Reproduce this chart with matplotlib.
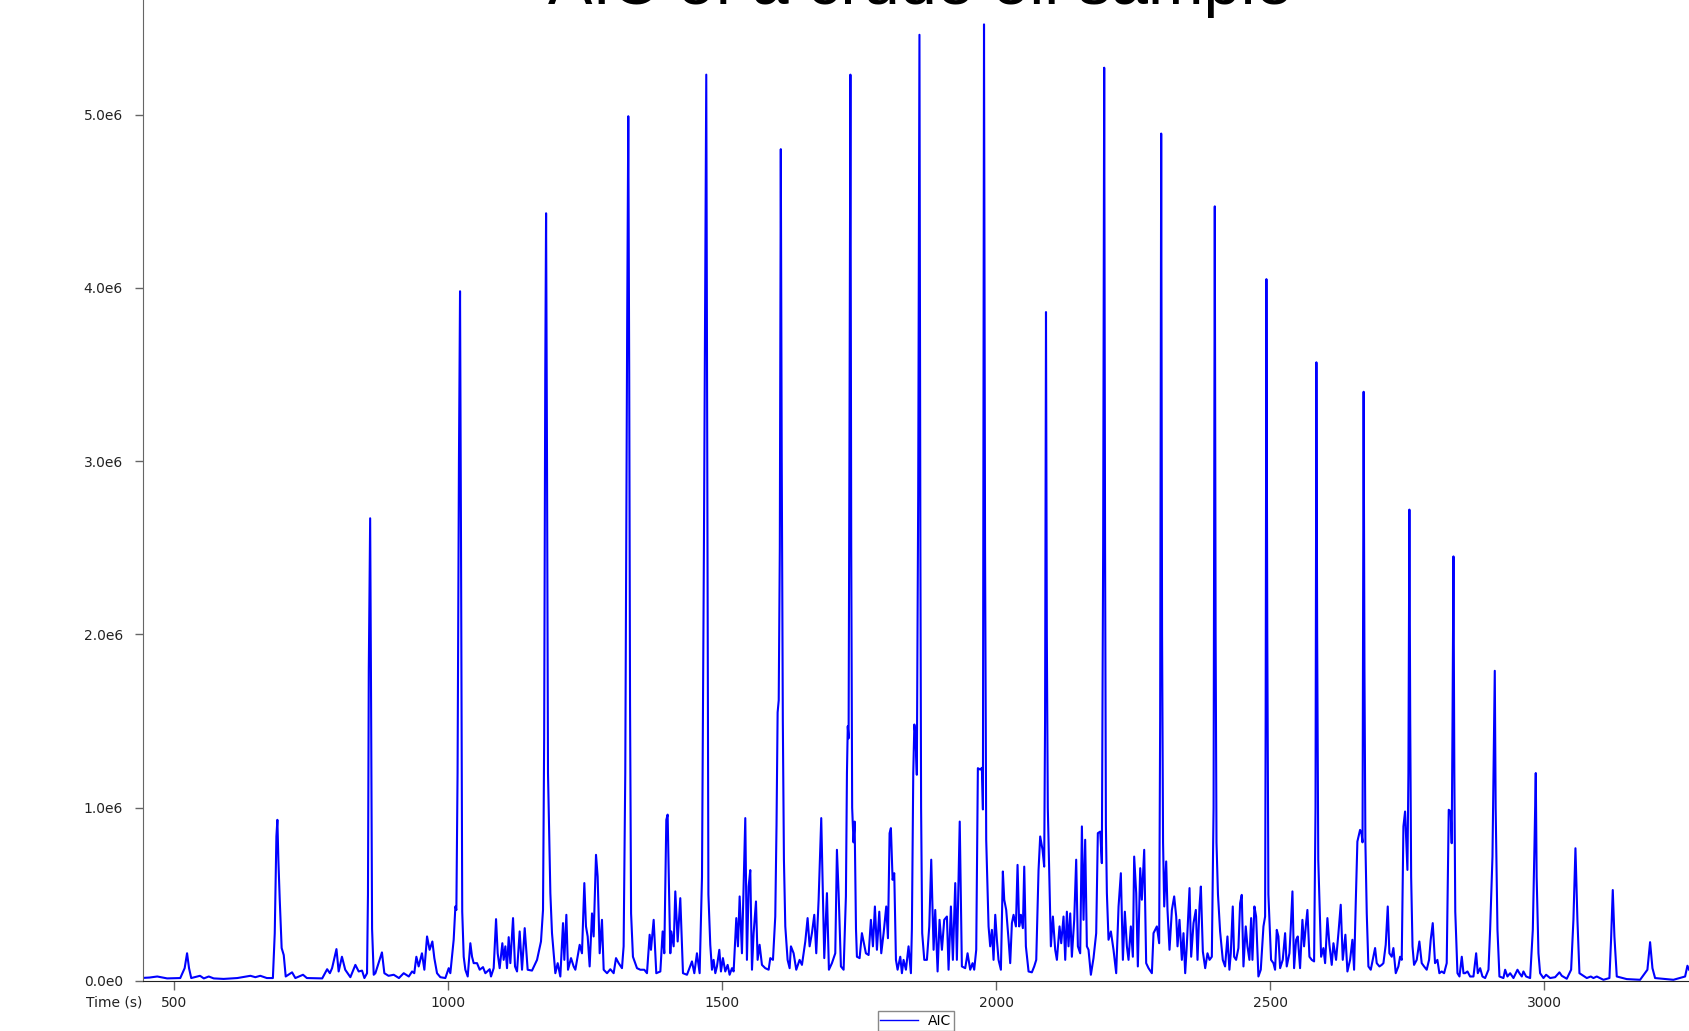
import numpy as np
import matplotlib.pyplot as plt

# AIC trace: (time in s, intensity in 1e6 counts)
region_a = [(438, 0.017), (455, 0.02), (469, 0.026), (487, 0.015), (511, 0.017), (519, 0.074), (523.4, 0.16),
            (527, 0.074), (531, 0.017), (547, 0.03), (554, 0.015), (563, 0.026), (572, 0.015), (590, 0.012),
            (615, 0.017), (639, 0.03), (648, 0.022), (657, 0.03), (669, 0.017), (680, 0.017), (683.4, 0.276),
            (686.4, 0.834), (688.2, 0.93), (690, 0.70), (692.5, 0.47), (696, 0.19), (699.8, 0.15), (703.4, 0.026),
            (715, 0.05), (721, 0.017), (735, 0.036), (742, 0.017), (770, 0.015), (779, 0.068), (784, 0.045),
            (788, 0.074), (796, 0.184), (800, 0.055), (806, 0.14), (812, 0.065), (821.4, 0.022), (830.5, 0.093),
            (836.6, 0.055), (842.7, 0.06), (847, 0.017), (851.8, 0.045), (853.5, 0.5), (855, 1.8), (857.5, 2.67),
            (859.2, 1.6), (861, 0.3), (864, 0.036), (867, 0.045), (879, 0.165), (883.4, 0.045), (891, 0.03),
            (900.5, 0.036), (910, 0.017), (918.7, 0.045), (928, 0.026), (934, 0.055), (938, 0.045), (941.8, 0.14),
            (946, 0.084), (952, 0.16), (956.4, 0.065), (961.3, 0.257), (966, 0.18), (971, 0.228), (974.6, 0.132),
            (979.5, 0.045)]

region_b = [(985.6, 0.022), (994.7, 0.017), (1000.8, 0.074), (1003.8, 0.045), (1009.9, 0.238), (1013, 0.43),
            (1014.8, 0.41), (1017, 1.2), (1019.5, 3.0), (1021.5, 3.98), (1023.3, 2.5), (1025.5, 0.4),
            (1028.2, 0.14), (1031.2, 0.065), (1035.5, 0.026), (1040.3, 0.218), (1043.4, 0.14), (1046.4, 0.103),
            (1052.5, 0.103), (1057.4, 0.065), (1063.4, 0.08), (1067.7, 0.045), (1075.6, 0.068), (1078, 0.026),
            (1082.9, 0.074), (1087.2, 0.357), (1090.2, 0.16), (1093.8, 0.074), (1098.7, 0.218), (1101.1, 0.122),
            (1104.2, 0.2), (1107.2, 0.074), (1110.3, 0.253), (1113.3, 0.103), (1118.2, 0.363), (1121.8, 0.084),
            (1125.5, 0.055), (1130.3, 0.286), (1134.6, 0.065), (1139.5, 0.305), (1144.9, 0.065), (1152.8, 0.06),
            (1162, 0.122), (1169.2, 0.228), (1172.9, 0.41), (1175, 1.4), (1177, 3.5), (1178.5, 4.43),
            (1180.2, 3.0), (1182, 1.2), (1186.3, 0.507), (1189.3, 0.276), (1195.4, 0.045), (1199.7, 0.103),
            (1204.5, 0.026), (1209.4, 0.334), (1211.8, 0.122), (1215.5, 0.382), (1218.5, 0.065), (1224, 0.132),
            (1228.8, 0.084), (1231.9, 0.065), (1239.8, 0.209), (1244, 0.16), (1248.3, 0.565), (1251.3, 0.315),
            (1254.4, 0.257), (1258, 0.084), (1262.3, 0.39), (1265.3, 0.257), (1269.6, 0.728), (1272.6, 0.603),
            (1276.3, 0.16), (1280.5, 0.353), (1283.6, 0.065), (1289.7, 0.045), (1295.7, 0.068), (1301.8, 0.045),
            (1306.1, 0.132), (1310.9, 0.103), (1317, 0.074), (1320, 0.2), (1323, 1.2), (1326.5, 3.8),
            (1328.5, 4.99), (1330.2, 3.5), (1331.7, 1.6), (1333.6, 0.39), (1337, 0.14), (1344.4, 0.074),
            (1350.5, 0.065), (1357.7, 0.065), (1362.6, 0.045), (1367.5, 0.267), (1369.9, 0.18), (1374.8, 0.353),
            (1379.6, 0.045), (1387, 0.055), (1391.2, 0.286), (1394.2, 0.16), (1397.9, 0.93), (1400.3, 0.96),
            (1403, 0.5), (1405.2, 0.16), (1407, 0.286), (1411.3, 0.2), (1414.3, 0.517), (1418.6, 0.228),
            (1423.4, 0.478), (1428.3, 0.045), (1435.6, 0.036), (1444.7, 0.113), (1449, 0.045), (1453.8, 0.16),
            (1458.7, 0.045)]

region_c = [(1463, 0.6), (1466.5, 2.5), (1470.8, 5.23), (1472.6, 3.0), (1474.7, 0.5), (1478.1, 0.209),
            (1481.2, 0.065), (1484.2, 0.122), (1487.3, 0.045), (1490.3, 0.084), (1494.6, 0.18), (1497.6, 0.055),
            (1501.2, 0.132), (1505.5, 0.055), (1509.8, 0.093), (1513.4, 0.036), (1517.7, 0.074), (1520.7, 0.055),
            (1525.6, 0.363), (1528.6, 0.2), (1531.7, 0.488), (1535.9, 0.16), (1542, 0.94), (1545, 0.122),
            (1548.1, 0.545), (1551.1, 0.64), (1554.2, 0.065), (1557.2, 0.276), (1561.5, 0.459), (1564.5, 0.122),
            (1568.1, 0.209), (1572.4, 0.093), (1578.5, 0.074), (1584.6, 0.065), (1587.6, 0.132), (1592.5, 0.122),
            (1596.7, 0.372), (1599, 0.9), (1601, 1.55), (1603, 1.62), (1605, 2.5), (1606.8, 4.80), (1608.5, 3.0),
            (1610.5, 1.5), (1612.5, 0.7), (1615, 0.315), (1619.2, 0.122), (1622.9, 0.074), (1625.3, 0.2),
            (1630.2, 0.16), (1635, 0.065), (1641.1, 0.122), (1645.4, 0.093), (1651.5, 0.228), (1655.7, 0.363),
            (1659.4, 0.2), (1663.6, 0.276), (1667.9, 0.382), (1671.5, 0.16), (1675.8, 0.469), (1680.6, 0.94),
            (1683.7, 0.478), (1686.1, 0.132), (1691, 0.507), (1694.6, 0.065), (1700.1, 0.103), (1706.2, 0.16),
            (1709.2, 0.757), (1712.3, 0.507), (1716.5, 0.084), (1721.4, 0.065), (1725.6, 0.488), (1727.5, 1.2),
            (1729, 1.47), (1730.5, 1.4), (1732, 3.0), (1733.8, 5.23), (1735.3, 2.5), (1737, 1.0), (1739.5, 0.8),
            (1741.5, 0.92), (1744, 0.3), (1745.7, 0.14), (1750.6, 0.132), (1754.8, 0.276), (1757.9, 0.228),
            (1762.1, 0.16), (1767, 0.15), (1771.2, 0.353), (1774.9, 0.2), (1778.5, 0.43), (1782.2, 0.18),
            (1786.5, 0.4), (1790.1, 0.16), (1794.4, 0.276), (1799.2, 0.43), (1802.3, 0.247), (1805.3, 0.853),
            (1807.7, 0.882), (1810.8, 0.584), (1813.8, 0.622), (1816.9, 0.122), (1819.9, 0.065), (1824.8, 0.14),
            (1827.8, 0.045), (1830.8, 0.122), (1835.1, 0.065), (1839.9, 0.2), (1844.2, 0.045), (1846, 0.3),
            (1848.5, 1.2), (1850.5, 1.48), (1852.5, 1.42), (1855, 1.19), (1857.5, 2.8), (1859.8, 5.46),
            (1861.5, 2.5), (1862.8, 1.0), (1864.8, 0.276), (1868.6, 0.122), (1873.4, 0.122), (1877.7, 0.315),
            (1881.3, 0.7), (1885.6, 0.18), (1888.6, 0.41), (1892.9, 0.055), (1896.5, 0.353), (1900.8, 0.18),
            (1905, 0.353), (1909.9, 0.372), (1912.9, 0.065), (1917.2, 0.43), (1920.8, 0.122), (1925.1, 0.565),
            (1928.1, 0.122), (1933.3, 0.92)]

region_d = [(1937.2, 0.084), (1943.3, 0.074), (1947.6, 0.16), (1952.4, 0.065), (1956.7, 0.103), (1959.7, 0.065),
            (1963.4, 0.18), (1966.4, 1.228), (1970.7, 1.22), (1973.7, 1.23), (1975.6, 0.99), (1977.6, 5.52),
            (1979.5, 2.5), (1981.6, 0.815), (1985.9, 0.315), (1988.9, 0.2), (1992, 0.295), (1995, 0.122),
            (1998.1, 0.382), (2001.1, 0.238), (2004.1, 0.122), (2008.4, 0.065), (2012, 0.632), (2014.5, 0.469),
            (2018.1, 0.41), (2022.4, 0.238), (2025.4, 0.103), (2028.5, 0.334), (2031.5, 0.382), (2035.8, 0.315),
            (2038.8, 0.67), (2041.8, 0.315), (2044.9, 0.382), (2048.5, 0.305), (2051, 0.66), (2054, 0.2),
            (2058.9, 0.055), (2064.9, 0.05), (2069.2, 0.084), (2072.9, 0.122), (2077.1, 0.64), (2080.1, 0.834),
            (2084.4, 0.757), (2087.4, 0.66), (2089, 1.5), (2090.7, 3.86), (2092.2, 2.0), (2094, 1.0),
            (2097.2, 0.545), (2099.6, 0.2), (2103.3, 0.372), (2107.5, 0.18), (2110.6, 0.122), (2115.4, 0.315),
            (2118.5, 0.218), (2122.7, 0.372), (2125.8, 0.122), (2128.8, 0.4), (2131.8, 0.2), (2134.9, 0.39),
            (2137.9, 0.14), (2142.2, 0.353), (2145.8, 0.7), (2148.9, 0.2), (2153.1, 0.16), (2156.2, 0.892),
            (2159.2, 0.353), (2162.2, 0.815), (2165.3, 0.2), (2168.3, 0.18), (2172.6, 0.036), (2177.4, 0.132),
            (2182.3, 0.276), (2185.3, 0.853), (2189.6, 0.862), (2192.6, 0.68), (2195, 2.5), (2196.9, 5.27),
            (2198.5, 2.5), (2200, 0.9), (2201.8, 0.507), (2204.8, 0.238), (2209.1, 0.286), (2213.9, 0.18),
            (2218.8, 0.045), (2223.1, 0.43), (2227.3, 0.622), (2231, 0.122), (2234.6, 0.4), (2238.3, 0.2),
            (2241.3, 0.122), (2245.5, 0.315), (2249.2, 0.14), (2251.6, 0.718), (2255.3, 0.507), (2258.3, 0.084),
            (2262.6, 0.651), (2265.6, 0.469), (2269.9, 0.757), (2273.5, 0.103), (2277.8, 0.074), (2283.9, 0.045),
            (2286.9, 0.276), (2293, 0.315), (2297.2, 0.218), (2299, 1.5), (2300.9, 4.89), (2302.5, 2.0),
            (2304.3, 0.8), (2306.4, 0.43), (2310, 0.69), (2312.4, 0.41), (2316.1, 0.18), (2320.4, 0.41),
            (2324.6, 0.488), (2328.3, 0.372), (2330.7, 0.2), (2334.3, 0.353), (2338.6, 0.122), (2341.6, 0.276),
            (2344.7, 0.045), (2347.7, 0.209), (2352.6, 0.536), (2355.6, 0.14), (2359.9, 0.334), (2364.1, 0.41),
            (2367.2, 0.122), (2370.8, 0.43), (2373.3, 0.545), (2376.9, 0.17), (2381.2, 0.074), (2385.4, 0.16),
            (2389.1, 0.122), (2393.3, 0.14), (2396.5, 1.0), (2398.7, 4.47), (2400.2, 2.0), (2401.8, 0.8),
            (2404.5, 0.5)]

region_e = [(2408.4, 0.286), (2413.3, 0.122), (2417.5, 0.084), (2421.8, 0.257), (2425.4, 0.065), (2427.9, 0.16),
            (2431.5, 0.43), (2434, 0.14), (2437.6, 0.122), (2441.8, 0.19), (2444.9, 0.449), (2447.9, 0.497),
            (2451, 0.084), (2455.2, 0.315), (2458.3, 0.2), (2461.9, 0.122), (2465, 0.363), (2467.4, 0.122),
            (2471, 0.43), (2474.1, 0.372), (2478.3, 0.026), (2482.6, 0.065), (2487.5, 0.315), (2490.5, 0.372),
            (2491.5, 1.5), (2492.9, 4.05), (2494.5, 2.0), (2496.5, 0.5), (2501.4, 0.122), (2505.7, 0.103),
            (2508.7, 0.065), (2511.8, 0.295), (2514.8, 0.257), (2517.9, 0.074), (2522.7, 0.122), (2527, 0.276),
            (2530, 0.084), (2534.9, 0.16), (2537.3, 0.305), (2540.4, 0.517), (2543.4, 0.074), (2547.1, 0.238),
            (2550.1, 0.257), (2554.3, 0.074), (2558.6, 0.353), (2561.6, 0.2), (2564.7, 0.315), (2567.7, 0.41),
            (2571.4, 0.14), (2575.6, 0.122), (2579.9, 0.113), (2582.5, 1.0), (2584.1, 3.57), (2585.5, 2.0),
            (2587.5, 0.7), (2589.6, 0.469), (2592.7, 0.14), (2596.9, 0.19), (2600, 0.103), (2604.2, 0.363),
            (2607.9, 0.209), (2612.1, 0.093), (2615.2, 0.218), (2620, 0.122), (2624.3, 0.276), (2628.5, 0.44),
            (2632.2, 0.122), (2637, 0.267), (2640.7, 0.055), (2645.6, 0.122), (2649.8, 0.238), (2652.9, 0.065),
            (2655.9, 0.449), (2658.9, 0.805), (2663.8, 0.872), (2666.5, 0.85), (2668.3, 0.8), (2670.3, 3.40),
            (2671.8, 1.8), (2673.5, 0.8), (2676, 0.39), (2679, 0.084), (2683.3, 0.065), (2688.1, 0.14),
            (2691.2, 0.19), (2694.2, 0.103), (2699.1, 0.084), (2703.3, 0.093), (2706.4, 0.103), (2710.6, 0.209),
            (2714.3, 0.43), (2717.3, 0.16), (2721.6, 0.14), (2724.6, 0.19), (2728.9, 0.045), (2733.7, 0.084),
            (2736.8, 0.14), (2739.8, 0.122), (2742.9, 0.892), (2745.9, 0.978), (2750.2, 0.641), (2752, 1.2),
            (2753.8, 2.72), (2755.3, 1.5), (2757, 0.6), (2759.5, 0.2), (2762.3, 0.093), (2767.2, 0.122),
            (2772, 0.228), (2776.3, 0.103), (2780.6, 0.084), (2785.4, 0.065), (2789.7, 0.122), (2792.7, 0.238),
            (2796.4, 0.334), (2800.6, 0.103), (2804.9, 0.122), (2808.5, 0.045), (2812.8, 0.055), (2817.1, 0.045),
            (2821.9, 0.103), (2825.6, 0.988), (2829.2, 0.978), (2831, 0.795), (2832.5, 1.5), (2834.2, 2.45),
            (2835.8, 1.2), (2837.5, 0.4), (2841.5, 0.045), (2845.2, 0.026), (2849.4, 0.14), (2852.5, 0.045),
            (2855.5, 0.045), (2859.8, 0.055), (2864.6, 0.026), (2870.7, 0.026), (2875.6, 0.16), (2878.6, 0.045),
            (2882.9, 0.074), (2887.1, 0.026)]

region_f = [(2892, 0.017), (2898.1, 0.065), (2901.1, 0.295), (2905.4, 0.718), (2909.6, 1.79), (2911.2, 1.0),
            (2914.5, 0.295), (2918.1, 0.026), (2925.4, 0.017), (2928.5, 0.065), (2932.7, 0.026), (2937.6, 0.045),
            (2943.7, 0.017), (2951, 0.065), (2954.6, 0.045), (2958.9, 0.026), (2961.9, 0.055), (2966.8, 0.026),
            (2974.1, 0.017), (2979, 0.295), (2982, 0.776), (2984.4, 1.20), (2986, 0.6), (2989.3, 0.16),
            (2992.3, 0.045), (2998.4, 0.017), (3003.3, 0.036), (3010.6, 0.017), (3019.7, 0.022), (3027.6, 0.05),
            (3031.9, 0.03), (3041, 0.013), (3048.9, 0.065), (3053.1, 0.353), (3056.8, 0.766), (3060.4, 0.353),
            (3064.1, 0.045), (3077.5, 0.017), (3084.8, 0.026), (3089.6, 0.017), (3095.7, 0.026), (3107.9, 0.007),
            (3118.8, 0.017), (3121.8, 0.238), (3124.9, 0.525), (3127.9, 0.257), (3132.2, 0.026), (3150.4, 0.011),
            (3174.8, 0.007), (3188.1, 0.065), (3193, 0.224), (3197.3, 0.074), (3202.1, 0.017), (3235.6, 0.007),
            (3256.9, 0.026), (3261.1, 0.088), (3264.2, 0.065)]

y_ticks = [0, 1e6, 2e6, 3e6, 4e6, 5e6]
y_tick_labels = ["0.0e0", "1.0e6", "2.0e6", "3.0e6", "4.0e6", "5.0e6"]
x_ticks = [500, 1000, 1500, 2000, 2500, 3000]

trace = np.array(region_a + region_b + region_c + region_d + region_e + region_f)
time = trace[:, 0]
aic = trace[:, 1] * 1e6

W, H = 1689, 1031
fig = plt.figure(figsize=(W / 100, H / 100), dpi=100)
# axes run off the top and right edge, like the cropped screenshot
ax = fig.add_axes([143 / W, (H - 981) / H, 1 - 143 / W, 981 / H])

ax.plot(time, aic, color="#0000ff", lw=1.5, label="AIC")
ax.set_xlim(443, 3264)
ax.set_ylim(0, 981 / 173.3 * 1e6)

for s in ["top", "right"]:
    ax.spines[s].set_visible(False)
ax.spines["left"].set_color("#666666")
ax.spines["bottom"].set_color("#222222")

ax.set_yticks(y_ticks)
ax.set_yticklabels(y_tick_labels)
ax.set_xticks(x_ticks)
ax.tick_params(axis="y", direction="out", length=6, width=1, color="#666666", pad=8.5,
               labelsize=10, labelcolor="#222222")
ax.tick_params(axis="x", direction="out", length=6.5, width=1, color="#666666", pad=4,
               labelsize=10, labelcolor="#222222")

fig.text(142 / W, 1 - 996 / H, "Time (s)", ha="right", va="top", fontsize=10, color="#222222")
fig.text(920 / W, 1 - 4 / H, "AIC of a crude oil sample", ha="center", va="baseline",
         fontsize=48, family="Liberation Sans", color="black")

leg = ax.legend(loc="upper center", bbox_to_anchor=(916 / W, 1 - 1011 / H), bbox_transform=fig.transFigure,
                fancybox=False, frameon=True, fontsize=10, borderpad=0.2, borderaxespad=0,
                handlelength=2.7, handletextpad=0.75, framealpha=1)
leg.get_frame().set_edgecolor("#888888")
leg.get_frame().set_linewidth(1)
for line in leg.get_lines():
    line.set_linewidth(1)

fig.savefig("out.png", dpi=100)
